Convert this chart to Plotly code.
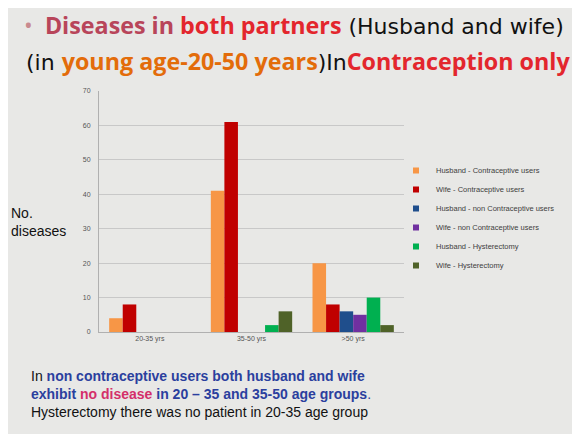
import plotly.graph_objects as go

# age groups on the x axis
age_groups = ["20-35 yrs", "35-50 yrs", ">50 yrs"]

# number of diseases per group, one list per series
husband_contraceptive = [4, 41, 20]
wife_contraceptive = [8, 61, 8]
husband_non_contraceptive = [0, 0, 6]
wife_non_contraceptive = [0, 0, 5]
husband_hysterectomy = [0, 2, 10]
wife_hysterectomy = [0, 6, 2]

y_ticks = [0, 10, 20, 30, 40, 50, 60, 70]

series = [
    ("Husband - Contraceptive users", husband_contraceptive, "#F79646"),
    ("Wife - Contraceptive users", wife_contraceptive, "#C00000"),
    ("Husband - non Contraceptive users", husband_non_contraceptive, "#1F4E8C"),
    ("Wife - non Contraceptive users", wife_non_contraceptive, "#7030A0"),
    ("Husband - Hysterectomy", husband_hysterectomy, "#00B050"),
    ("Wife - Hysterectomy", wife_hysterectomy, "#4F6228"),
]

fig = go.Figure()
for name, vals, col in series:
    fig.add_trace(go.Bar(x=age_groups, y=vals, name=name, marker_color=col,
                         marker_line_width=0, legendgroup=name, showlegend=False))
    # small square legend key like the excel one
    fig.add_trace(go.Scatter(x=[None], y=[None], mode="markers", name=name,
                             legendgroup=name,
                             marker=dict(symbol="square", size=6, color=col)))

# the page body has an 8px margin, so the figure sits 8px right/down
off = 8
bg = "#E8E8E6"
fig.update_layout(
    width=580, height=434,
    margin=dict(l=99 - off, r=580 - (404 - off), t=91 - off, b=434 - (332 - off)),
    paper_bgcolor=bg, plot_bgcolor=bg,
    barmode="group", bargap=0.2, bargroupgap=0,
    font=dict(family="Liberation Sans", color="#333333"),
    legend=dict(x=(396 - 99) / 305, xanchor="left", y=(332 - 218) / 241,
                yanchor="middle", font=dict(size=7.5, color="#404040"),
                bgcolor="rgba(0,0,0,0)", itemwidth=30, tracegroupgap=0),
    showlegend=True,
)
fig.update_yaxes(range=[0, 70], tickvals=y_ticks, showgrid=True, gridcolor="#C8C8C8",
                 gridwidth=1, showline=True, linecolor="#B0B0B0", ticks="",
                 ticklabelstandoff=6,
                 tickfont=dict(size=7, color="#555555"), zeroline=False)
fig.update_xaxes(showline=True, linecolor="#B0B0B0", ticks="",
                 tickfont=dict(size=7, color="#555555"))


def px(x):
    return (x - 99) / 305


def py(y):
    return (332 - y) / 241


reg = "font-family:DejaVu Sans;font-size:22px;color:#111111"
title1 = ("<span style='color:#C98A8F'>•</span>&nbsp; "
          "<b><span style='color:#B8455A'>Diseases in </span></b>"
          "<b><span style='color:#E3262D'>both partners</span></b>"
          f"<span style='{reg}'> (Husband and wife)</span>")
title2 = (f"<span style='{reg}'>(in </span>"
          "<b><span style='color:#E36C0A'>young age-20-50 years</span></b>"
          f"<span style='{reg}'>)In</span>"
          "<b><span style='color:#E3262D'>Contraception only</span></b>")
fig.add_annotation(text=title1, xref="paper", yref="paper", x=px(22),
                   xanchor="left", y=py(24.5), yanchor="middle",
                   showarrow=False, font=dict(family="Open Sans", size=23.3))
fig.add_annotation(text=title2, xref="paper", yref="paper", x=px(24),
                   xanchor="left", y=py(61), yanchor="middle",
                   showarrow=False, font=dict(family="Open Sans", size=23.3))

fig.add_annotation(text="No.<br>diseases", xref="paper", yref="paper",
                   x=px(9), xanchor="left", y=py(222),
                   yanchor="middle", align="left", showarrow=False,
                   font=dict(family="Liberation Sans", size=14, color="#111111"))

blue = "#2B3F9E"
note = ("<span style='color:#111111'>In </span>"
        f"<b><span style='color:{blue}'>non contraceptive users both husband and wife</span></b><br>"
        f"<b><span style='color:{blue}'>exhibit </span></b>"
        "<b><span style='color:#D42F6A'>no disease</span></b>"
        f"<b><span style='color:{blue}'> in 20 – 35 and 35-50 age groups</span></b>"
        f"<span style='color:{blue}'>.</span><br>"
        "<span style='color:#111111'>Hysterectomy there was no patient in 20-35 age group</span>")
fig.add_annotation(text=note, xref="paper", yref="paper", x=px(29),
                   xanchor="left", y=py(394), yanchor="middle",
                   align="left", showarrow=False,
                   font=dict(family="Liberation Sans", size=14))

fig.write_html("out.html")
